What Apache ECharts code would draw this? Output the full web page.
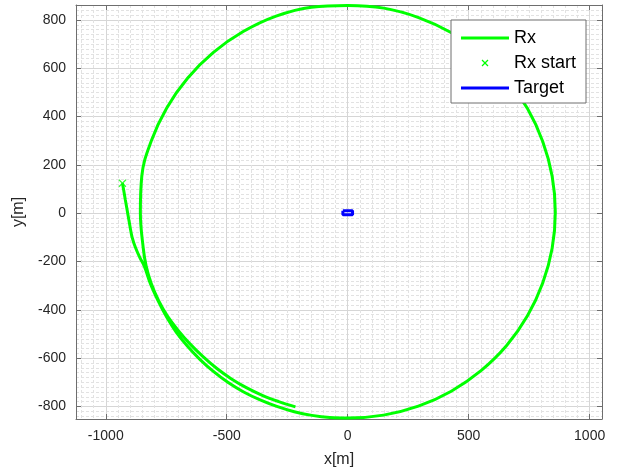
<!DOCTYPE html>
<html>
<head>
<meta charset="utf-8">
<script src="https://cdn.jsdelivr.net/npm/echarts@6/dist/echarts.min.js"></script>
<style>
html,body{margin:0;padding:0;background:#fff;}
#chart{width:626px;height:475px;}
</style>
</head>
<body>
<div id="chart"></div>
<script>
// Rx trajectory: start, outer arc, full loop, inner arc end
const rxX = [-931,-925,-919,-912,-905,-898,-891,-878,-860,-840,-815,-784,-749,-709,-662,-610,-554,-494,-430,-362,-293,-221,-148,-74,0,148,292,428,551,657,743,806,845,858,845,806,743,657,552,429,293,149,0,-150,-296,-432,-555,-662,-748,-812,-851,-857,-845,-833,-812,-782,-745,-700,-651,-598,-542,-482,-419,-353,-285,-216];
const rxY = [124,90,55,15,-25,-65,-100,-140,-182,-221,-293,-362,-429,-492,-551,-606,-656,-701,-740,-773,-800,-822,-837,-846,-848,-836,-799,-737,-652,-548,-425,-289,-145,4,153,297,433,556,661,747,810,849,860,853,816,752,666,559,436,299,154,4,-145,-219,-291,-361,-426,-486,-542,-594,-642,-685,-722,-754,-780,-802];
// Rx start point
const startX = [-931];
const startY = [124];
// Target track
const targetX = [-20, 20, 24, 20, -20, -24, -20];
const targetY = [10, 10, 2, -6, -6, 2, 10];
// Tick labels
const xTicks = [-1000, -500, 0, 500, 1000];
const yTicks = [-800, -600, -400, -200, 0, 200, 400, 600, 800];
const legendNames = ['Rx', 'Rx start', 'Target'];

const zip = (a, b) => a.map((v, i) => [v, b[i]]);
const FONT = 'Liberation Sans, Arial, Helvetica, sans-serif';
const AX = '#6e6e6e';
const TXT = '#262626';
const GREEN = '#00ff00';
const BLUE = '#0000ff';

const chart = echarts.init(document.getElementById('chart'), null, {renderer: 'canvas'});

const GRID = {left: 76, top: 5, width: 526, height: 414};
const XR = [-1123, 1051];
const YR = [-852, 862];

function baseAxis(extra) {
  return Object.assign({
    type: 'value',
    axisLine: {show: true, onZero: false, lineStyle: {color: AX, width: 1}},
    axisTick: {show: true, inside: true, length: 5, lineStyle: {color: AX}},
  }, extra);
}
const fmt = ticks => v => {
  const r = Math.round(v);
  return ticks.includes(r) && Math.abs(v - r) < 1e-6 ? String(r) : '';
};

const xMain = baseAxis({
  position: 'bottom', min: XR[0], max: XR[1], splitNumber: 5, minInterval: 500, maxInterval: 500,
  name: 'x[m]', nameLocation: 'middle', nameGap: 33,
  nameTextStyle: {fontFamily: FONT, fontSize: 16, color: TXT},
  axisLabel: {margin: 10, fontFamily: FONT, fontSize: 14, color: TXT, formatter: fmt(xTicks)},
  splitLine: {show: true, lineStyle: {color: '#d6d6d6', width: 1, type: 'solid'}},
  minorTick: {show: false, splitNumber: 10},
  minorSplitLine: {show: true, lineStyle: {color: '#e2e2e2', width: 1, type: [3, 2]}}
});
const xTop = baseAxis({
  position: 'top', min: XR[0], max: XR[1], splitNumber: 5, minInterval: 500, maxInterval: 500,
  axisLabel: {show: false}, splitLine: {show: false}
});
const yMain = baseAxis({
  position: 'left', min: YR[0], max: YR[1], splitNumber: 8, minInterval: 200, maxInterval: 200,
  name: 'y[m]', nameLocation: 'middle', nameGap: 45, nameRotate: 90,
  nameTextStyle: {fontFamily: FONT, fontSize: 16, color: TXT},
  axisLabel: {margin: 10, fontFamily: FONT, fontSize: 14, color: TXT, formatter: fmt(yTicks)},
  splitLine: {show: true, lineStyle: {color: '#d6d6d6', width: 1, type: 'solid'}},
  minorTick: {show: false, splitNumber: 10},
  minorSplitLine: {show: true, lineStyle: {color: '#e2e2e2', width: 1, type: [3, 2]}}
});
const yRight = baseAxis({
  position: 'right', min: YR[0], max: YR[1], splitNumber: 8, minInterval: 200, maxInterval: 200,
  axisLabel: {show: false}, splitLine: {show: false}
});

// Legend drawn as graphic
const LX = 451, LY = 20, LW = 135, LH = 83;
const rowY = [38, 63, 88];
const legendGraphic = {
  type: 'group', z: 100, children: [
    {type: 'rect', shape: {x: LX, y: LY, width: LW, height: LH}, style: {fill: '#fff', stroke: AX, lineWidth: 1}, z: 100},
    {type: 'line', shape: {x1: 461, y1: rowY[0], x2: 509, y2: rowY[0]}, style: {stroke: GREEN, lineWidth: 3}, z: 101},
    {type: 'line', shape: {x1: 482, y1: rowY[1] - 3, x2: 488, y2: rowY[1] + 3}, style: {stroke: GREEN, lineWidth: 1.2}, z: 101},
    {type: 'line', shape: {x1: 488, y1: rowY[1] - 3, x2: 482, y2: rowY[1] + 3}, style: {stroke: GREEN, lineWidth: 1.2}, z: 101},
    {type: 'line', shape: {x1: 461, y1: rowY[2], x2: 509, y2: rowY[2]}, style: {stroke: BLUE, lineWidth: 3}, z: 101},
  ].concat(legendNames.map((n, i) => ({
    type: 'text', x: 514, y: rowY[i], z: 101,
    style: {text: n, fill: '#000', font: '18px ' + FONT, verticalAlign: 'middle', align: 'left'}
  })))
};

chart.setOption({
  animation: false,
  backgroundColor: '#fff',
  grid: Object.assign({containLabel: false}, GRID),
  xAxis: [xMain, xTop],
  yAxis: [yMain, yRight],
  series: [
    {name: 'Rx', type: 'line', data: zip(rxX, rxY), showSymbol: false, symbol: 'none', smooth: 0.4,
      lineStyle: {color: GREEN, width: 3}, z: 3, clip: true},
    {name: 'Rx start', type: 'scatter', data: zip(startX, startY), symbol: 'path://M0,0L10,10M10,0L0,10',
      symbolSize: 7, itemStyle: {color: 'none', borderColor: GREEN, borderWidth: 1.2}, z: 4},
    {name: 'Target', type: 'line', data: zip(targetX, targetY), showSymbol: false, symbol: 'none',
      lineStyle: {color: BLUE, width: 3}, z: 5}
  ],
  graphic: [legendGraphic]
});
</script>
</body>
</html>
